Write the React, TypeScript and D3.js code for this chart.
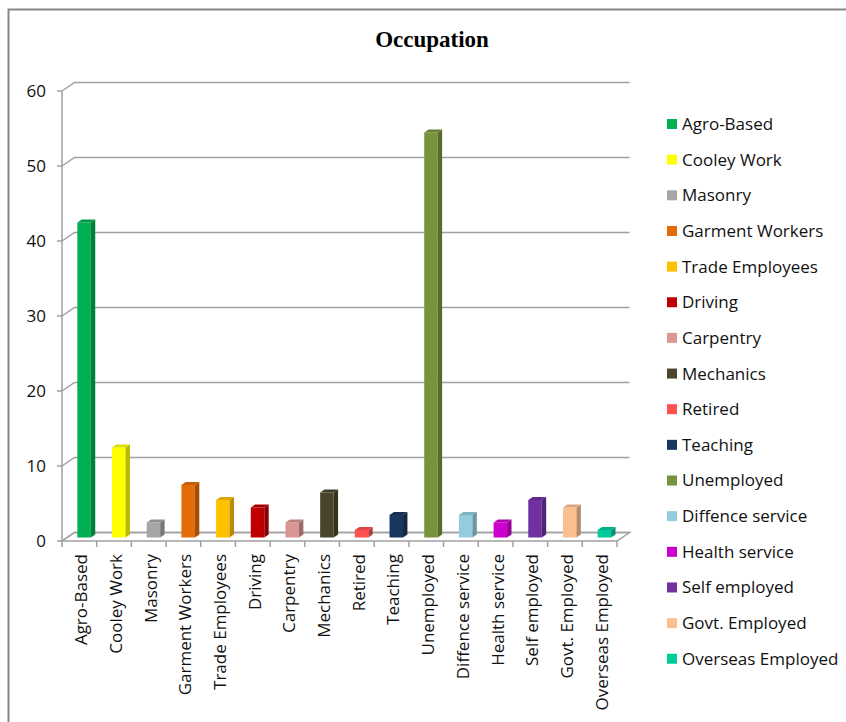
import * as d3 from "d3";

const W = 846;
const H = 722;

const categories = [
  "Agro-Based", "Cooley Work", "Masonry", "Garment Workers", "Trade Employees",
  "Driving", "Carpentry", "Mechanics", "Retired", "Teaching", "Unemployed",
  "Diffence service", "Health service", "Self employed", "Govt. Employed", "Overseas Employed",
];
const values = [42, 12, 2, 7, 5, 4, 2, 6, 1, 3, 54, 3, 2, 5, 4, 1];
const colors = [
  "#00B050", "#FFFF00", "#A6A6A6", "#E36C09", "#FFC000",
  "#C00000", "#D99694", "#4A452A", "#FF5050", "#17375E", "#77933C",
  "#93CDDD", "#CC00CC", "#7030A0", "#FAC090", "#00CC99",
];
const yTicks = [0, 10, 20, 30, 40, 50, 60];

const plot = { left: 62, right: 617, top: 91, bottom: 541 };
const depth = { dx: 12.5, dy: -8.5 };
const mid = { dx: 4.7, dy: -3.5 };
const barW = 13.5;
const side = { dx: 4.4, dy: -3 };
const font = "'Open Sans', 'Noto Sans', sans-serif";
const grid = "#A0A0A0";
const ink = "#111";

export default function App() {
  const x = d3.scaleBand(categories, [plot.left, plot.right]);
  const y = d3.scaleLinear([0, 60], [plot.bottom, plot.top]);
  const bw = x.bandwidth();

  const floor = [
    [plot.left, plot.bottom],
    [plot.right, plot.bottom],
    [plot.right + depth.dx, plot.bottom + depth.dy],
    [plot.left + depth.dx, plot.bottom + depth.dy],
  ];

  return (
    <svg width={W} height={H} style={{ position: "absolute", left: 0, top: 0, background: "#fff" }}>
      <rect x={8.5} y={9.5} width={W + 10} height={H + 10} fill="#fff" stroke="#868686" strokeWidth={2} />
      <text x={432} y={47} textAnchor="middle" fontFamily="'Liberation Serif', 'Times New Roman', serif" fontWeight="bold" fontSize={23}>
        Occupation
      </text>

      {/* floor */}
      <polygon points={floor.map((p) => p.join(",")).join(" ")} fill="#fff" stroke={grid} strokeWidth={1.5} />

      {/* gridlines on back wall */}
      {yTicks.map((t) => (
        <g key={"g" + t}>
          <path
            d={`M${plot.left},${y(t)}L${plot.left + depth.dx},${y(t) + depth.dy}L${plot.right + depth.dx},${y(t) + depth.dy}`}
            fill="none"
            stroke={grid}
            strokeWidth={1.5}
          />
          <line x1={plot.left - 5} x2={plot.left} y1={y(t)} y2={y(t)} stroke={grid} strokeWidth={1.5} />
          <text x={46} y={y(t)} dy="0.35em" textAnchor="end" fontFamily={font} fontSize={17} fill={ink}>
            {t}
          </text>
        </g>
      ))}
      <line x1={plot.left} x2={plot.left} y1={plot.top} y2={plot.bottom} stroke={grid} strokeWidth={1.5} />

      {/* x ticks */}
      {d3.range(categories.length + 1).map((i) => {
        const xx = plot.left + i * bw;
        return <line key={"t" + i} x1={xx} x2={xx} y1={plot.bottom} y2={plot.bottom + 6} stroke={grid} strokeWidth={1.5} />;
      })}

      {/* bars */}
      {categories.map((c, i) => {
        const x0 = x(c)! + bw / 2 - 2;
        const x1 = x0 + barW;
        const yb = plot.bottom + mid.dy;
        const yt = y(values[i]) + mid.dy;
        const col = d3.color(colors[i])!;
        return (
          <g key={c}>
            <rect x={x0} y={yt} width={barW} height={yb - yt} fill={colors[i]} />
            <polygon
              points={`${x1},${yt} ${x1 + side.dx},${yt + side.dy} ${x1 + side.dx},${yb + side.dy} ${x1},${yb}`}
              fill={col.darker(0.9).toString()}
            />
            <polygon
              points={`${x0},${yt} ${x0 + side.dx},${yt + side.dy} ${x1 + side.dx},${yt + side.dy} ${x1},${yt}`}
              fill={col.darker(0.4).toString()}
            />
          </g>
        );
      })}

      {/* x labels */}
      {categories.map((c) => {
        const cx = x(c)! + bw / 2 + 2;
        return (
          <text
            key={"l" + c}
            transform={`translate(${cx},554) rotate(-90)`}
            dy="0.35em"
            textAnchor="end"
            fontFamily={font}
            fontSize={17}
            fill={ink}
          >
            {c}
          </text>
        );
      })}

      {/* legend */}
      {categories.map((c, i) => {
        const cy = 124 + i * 35.65;
        return (
          <g key={"lg" + c}>
            <rect x={667} y={cy - 5} width={10} height={10} fill={colors[i]} />
            <text x={682} y={cy} dy="0.35em" fontFamily={font} fontSize={17} fill={ink}>
              {c}
            </text>
          </g>
        );
      })}
    </svg>
  );
}
